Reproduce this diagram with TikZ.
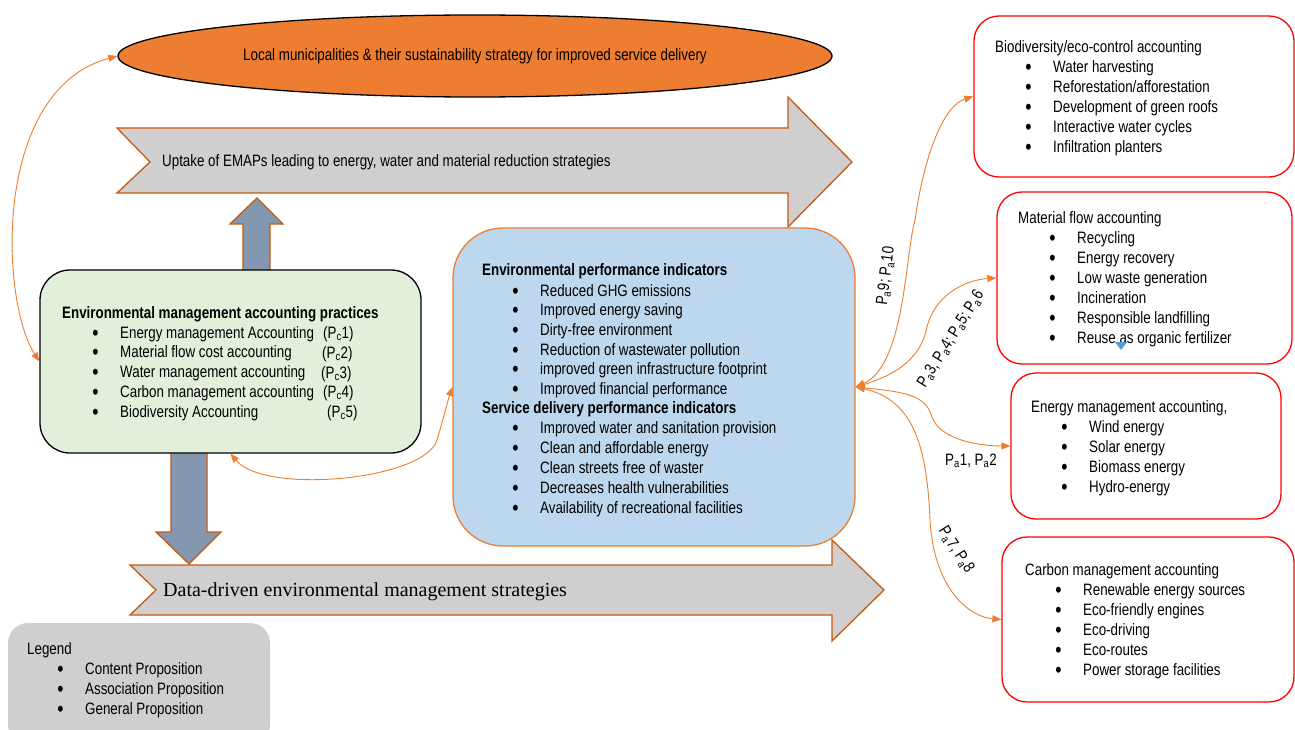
\documentclass[tikz,border=0pt]{standalone}
\usepackage{fontspec}
\setmainfont{Liberation Sans}[FakeStretch=0.81]
\newfontfamily\serf{Liberation Serif}
\usetikzlibrary{arrows.meta,shapes.geometric,fit}
\definecolor{corange}{HTML}{ED7D31}
\definecolor{cbrown}{HTML}{C55A11}
\definecolor{cgray}{HTML}{D0CECE}
\definecolor{cslate}{HTML}{8497B0}
\definecolor{cblue}{HTML}{BDD7EE}
\definecolor{cgreen}{HTML}{E2EFDA}
\definecolor{ctri}{HTML}{5B9BD5}
\newcommand{\fs}{\fontsize{16.5bp}{20bp}\selectfont}
\newcommand{\bul}{\llap{\raisebox{-2bp}{\fontsize{22bp}{20bp}\selectfont\textbullet}\hspace{21.5bp}}}
\newcommand{\sbs}[1]{\textsubscript{#1}}
\begin{document}
\begin{tikzpicture}[x=1bp,y=-1bp,
  txt/.style={inner sep=0pt, anchor=base west, font=\fs},
  hd/.style={inner sep=0pt, anchor=base west, font=\fs\bfseries},
  lbl/.style={inner sep=0pt, font=\fs},
  rbox/.style={draw=red, line width=1.3bp, rounded corners=25bp, fill=white, inner sep=0pt},
  conn/.style={draw=corange, line width=0.9bp, {Triangle[length=9bp,width=7bp]}-{Triangle[length=9bp,width=7bp]}},
  chev/.style={fill=cgray, draw=cbrown, line width=1.3bp, line join=miter},
  blk/.style={fill=cslate, draw=cbrown, line width=1.3bp, line join=miter}]
\useasboundingbox (0,0) rectangle (1295,730);

% ellipse
\node[ellipse, draw=black, line width=1.3bp, fill=corange, minimum width=714bp, minimum height=82bp, inner sep=0pt, font=\fs] (ell) at (475,56)
  {Local municipalities \& their sustainability strategy for improved service delivery};

% top chevron arrow
\draw[chev] (117,128) -- (788,128) -- (788,97) -- (852,162) -- (788,227) -- (788,193) -- (117,193) -- (150,162) -- cycle;
\node[txt] (uptake) at (162,167) {Uptake of EMAPs leading to energy, water and material reduction strategies};

% up arrow
\draw[blk] (243,272) -- (243,224) -- (230,224) -- (257,198) -- (283,224) -- (270,224) -- (270,272) -- cycle;
% down arrow
\draw[blk] (171,450) -- (171,532) -- (156,532) -- (189,564) -- (221,532) -- (207,532) -- (207,450) -- cycle;

% green box
\node[draw=black, line width=1.3bp, fill=cgreen, rounded corners=30bp, inner sep=0pt, fit={(40,270) (421,453)}] (green) {};
\node[hd] (gT) at (62,318) {Environmental management accounting practices};
\foreach \t [count=\i from 0] in {Energy management Accounting, Material flow cost accounting, Water management accounting, Carbon management accounting, Biodiversity Accounting}
  \node[txt] (g\i) at (120,{338+19.8*\i}) {\bul\t};
\node[txt] (pc1) at (323,338) {(P\sbs{c}1)};
\node[txt] (pc2) at (322,358) {(P\sbs{c}2)};
\node[txt] (pc3) at (321,378) {(P\sbs{c}3)};
\node[txt] (pc4) at (323,397) {(P\sbs{c}4)};
\node[txt] (pc5) at (327,417) {(P\sbs{c}5)};

% blue box
\node[draw=corange, line width=1.3bp, fill=cblue, rounded corners=50bp, inner sep=0pt, fit={(453,228) (855,546)}] (blue) {};
\node[hd] (bT1) at (482,275) {Environmental performance indicators};
\foreach \t [count=\i from 0] in {Reduced GHG emissions, Improved energy saving, Dirty-free environment, Reduction of wastewater pollution, improved green infrastructure footprint, Improved financial performance}
  \node[txt] (be\i) at (540,{296+19.7*\i}) {\bul\t};
\node[hd] (bT2) at (482,413) {Service delivery performance indicators};
\foreach \t [count=\i from 0] in {Improved water and sanitation provision, Clean and affordable energy, Clean streets free of waster, Decreases health vulnerabilities, Availability of recreational facilities}
  \node[txt] (bs\i) at (540,{433+20*\i}) {\bul\t};

% bottom chevron arrow
\draw[chev] (130,565) -- (832,565) -- (832,540) -- (884,590) -- (832,641) -- (832,615) -- (130,615) -- (156,590) -- cycle;
\node[inner sep=0pt, anchor=base west, font=\serf\fontsize{20bp}{24bp}\selectfont] (datadriven) at (163,596) {Data-driven environmental management strategies};

% legend
\node[fill=cgray, rounded corners=20bp, inner sep=0pt, fit={(8,623) (270,745)}] (legend) {};
\node[txt] (legT) at (27,654) {Legend};
\foreach \t [count=\i from 0] in {Content Proposition, Association Proposition, General Proposition}
  \node[txt] (leg\i) at (85,{674+20*\i}) {\bul\t};

% right boxes
\node[rbox, fit={(974,16) (1294,177)}] (boxA) {};
\node[txt] (aT) at (995,53) {Biodiversity/eco-control accounting};
\foreach \t [count=\i from 0] in {Water harvesting, Reforestation/afforestation, Development of green roofs, Interactive water cycles, Infiltration planters}
  \node[txt] (a\i) at (1053,{73+19.8*\i}) {\bul\t};

\node[rbox, fit={(997,192) (1292,364)}] (boxB) {};
\node[txt] (bT) at (1018,224) {Material flow accounting};
\foreach \t [count=\i from 0] in {Recycling, Energy recovery, Low waste generation, Incineration, Responsible landfilling, Reuse as organic fertilizer}
  \node[txt] (b\i) at (1077,{244+19.9*\i}) {\bul\t};
\fill[ctri] (1115,342) -- (1127,342) -- (1121,350) -- cycle;

\node[rbox, fit={(1011,373) (1281,519)}] (boxC) {};
\node[txt] (cT) at (1031,412) {Energy management accounting,};
\foreach \t [count=\i from 0] in {Wind energy, Solar energy, Biomass energy, Hydro-energy}
  \node[txt] (c\i) at (1089,{432+20*\i}) {\bul\t};

\node[rbox, fit={(1002,537) (1294,702)}] (boxD) {};
\node[txt] (dT) at (1025,575) {Carbon management accounting};
\foreach \t [count=\i from 0] in {Renewable energy sources, Eco-friendly engines, Eco-driving, Eco-routes, Power storage facilities}
  \node[txt] (d\i) at (1083,{595+20*\i}) {\bul\t};

% connectors
\draw[conn] (green.west) .. controls (0,300) and (-8,90) .. (ell.west);
\draw[conn] (green.south) .. controls (265,495) and (425,480) .. (437,440) .. controls (443,420) and (448,400) .. (blue.west);
\draw[conn] (blue.east) .. controls (905,365) and (905,255) .. (915,220) .. controls (925,150) and (945,105) .. (boxA.west);
\draw[conn] (blue.east) .. controls (905,372) and (922,352) .. (927,327) .. controls (935,295) and (965,280) .. (boxB.west);
\draw[conn] (blue.east) .. controls (905,392) and (926,395) .. (932,417) .. controls (940,440) and (980,446) .. (boxC.west);
\draw[conn] (blue.east) .. controls (915,400) and (927,450) .. (930,520) .. controls (934,590) and (970,617) .. (boxD.west);

% labels
\node[lbl, rotate=83] (l910) at (886,276) {P\sbs{a}9; P\sbs{a}10};
\node[lbl, rotate=58] (l3456) at (951,339) {P\sbs{a}3, P\sbs{a}4; P\sbs{a}5; P\sbs{a}6};
\node[lbl] (l12) at (971,461) {P\sbs{a}1, P\sbs{a}2};
\node[lbl, rotate=-57] (l78) at (956,550) {P\sbs{a}7, P\sbs{a}8};
\end{tikzpicture}
\end{document}
